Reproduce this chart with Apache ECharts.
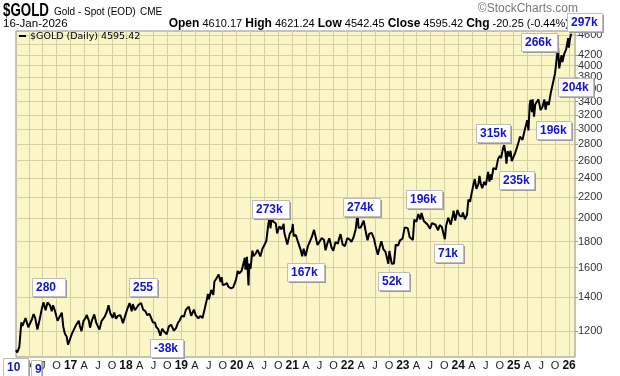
<!DOCTYPE html>
<html>
<head>
<meta charset="utf-8">
<script src="https://cdn.jsdelivr.net/npm/echarts@6/dist/echarts.min.js"></script>
<style>
html, body { margin: 0; padding: 0; background: #fff; }
#chart { width: 620px; height: 376px; }
</style>
</head>
<body>
<div id="chart"></div>
<script>
// daily close of $GOLD (a few points per month)
const dates = [
  '2016-01-07','2016-01-15','2016-01-29','2016-02-11','2016-02-19','2016-03-01','2016-03-10','2016-03-17','2016-03-28','2016-04-08','2016-04-21',
  '2016-05-02','2016-05-13','2016-05-27','2016-06-06','2016-06-16','2016-06-24','2016-07-06','2016-07-20','2016-08-02','2016-08-17','2016-08-30',
  '2016-09-07','2016-09-20','2016-09-29','2016-10-07','2016-10-20','2016-11-04','2016-11-14','2016-11-25','2016-12-06','2016-12-15','2016-12-29',
  '2017-01-10','2017-01-24','2017-02-07','2017-02-24','2017-03-03','2017-03-14','2017-03-27','2017-04-11','2017-04-17','2017-05-02','2017-05-09',
  '2017-05-23','2017-06-06','2017-06-20','2017-06-30','2017-07-10','2017-07-24','2017-08-04','2017-08-14','2017-08-29','2017-09-08','2017-09-20',
  '2017-10-05','2017-10-16','2017-10-27','2017-11-09','2017-11-24','2017-12-05','2017-12-12','2017-12-27',
  '2018-01-08','2018-01-25','2018-02-08','2018-02-15','2018-03-01','2018-03-14','2018-03-27','2018-04-11','2018-04-24','2018-05-09','2018-05-21',
  '2018-06-05','2018-06-14','2018-06-28','2018-07-12','2018-07-19','2018-08-02','2018-08-16','2018-08-28','2018-09-11','2018-09-27','2018-10-11',
  '2018-10-26','2018-11-13','2018-11-27','2018-12-10','2018-12-21',
  '2019-01-04','2019-01-18','2019-01-31','2019-02-19','2019-03-07','2019-03-25','2019-04-05','2019-04-23','2019-05-07','2019-05-21','2019-06-04',
  '2019-06-20','2019-06-25','2019-07-02','2019-07-18','2019-07-31','2019-08-07','2019-08-23','2019-09-04','2019-09-17','2019-09-24','2019-10-01',
  '2019-10-15','2019-10-29','2019-11-07','2019-11-25','2019-12-09','2019-12-27',
  '2020-01-08','2020-01-17','2020-02-03','2020-02-14','2020-02-24','2020-02-28','2020-03-09','2020-03-19','2020-03-24','2020-04-01','2020-04-14',
  '2020-04-21','2020-05-05','2020-05-18','2020-05-29','2020-06-05','2020-06-19','2020-07-01','2020-07-15','2020-07-27','2020-08-06','2020-08-11',
  '2020-08-18','2020-08-31','2020-09-15','2020-09-24','2020-10-09','2020-10-23','2020-11-06','2020-11-10','2020-11-30','2020-12-16','2020-12-31',
  '2021-01-05','2021-01-11','2021-01-25','2021-02-05','2021-02-16','2021-02-26','2021-03-08','2021-03-18','2021-03-30','2021-04-15','2021-04-28',
  '2021-05-10','2021-05-25','2021-06-01','2021-06-17','2021-06-29','2021-07-15','2021-07-30','2021-08-09','2021-08-20','2021-09-03','2021-09-17',
  '2021-09-29','2021-10-14','2021-10-29','2021-11-05','2021-11-16','2021-11-30','2021-12-15','2021-12-31',
  '2022-01-14','2022-01-27','2022-02-10','2022-02-24','2022-03-08','2022-03-15','2022-03-29','2022-04-18','2022-04-29','2022-05-13','2022-05-24',
  '2022-06-10','2022-06-24','2022-07-05','2022-07-20','2022-08-02','2022-08-12','2022-08-26','2022-09-08','2022-09-27','2022-10-04','2022-10-20',
  '2022-11-03','2022-11-15','2022-11-30','2022-12-13','2022-12-30',
  '2023-01-13','2023-01-26','2023-02-02','2023-02-15','2023-02-28','2023-03-08','2023-03-17','2023-03-31','2023-04-13','2023-04-26','2023-05-04',
  '2023-05-19','2023-05-31','2023-06-14','2023-06-29','2023-07-12','2023-07-20','2023-08-04','2023-08-21','2023-09-01','2023-09-15','2023-09-29',
  '2023-10-05','2023-10-13','2023-10-27','2023-11-13','2023-11-28','2023-12-01','2023-12-12','2023-12-27',
  '2024-01-10','2024-01-24','2024-02-01','2024-02-14','2024-02-28','2024-03-08','2024-03-19','2024-03-28','2024-04-12','2024-04-19','2024-04-30',
  '2024-05-13','2024-05-20','2024-05-29','2024-06-07','2024-06-20','2024-07-01','2024-07-16','2024-07-25','2024-08-02','2024-08-07','2024-08-20',
  '2024-09-06','2024-09-20','2024-10-03','2024-10-10','2024-10-22','2024-10-30','2024-11-08','2024-11-14','2024-11-22','2024-12-04','2024-12-11',
  '2024-12-19','2024-12-30',
  '2025-01-10','2025-01-24','2025-02-04','2025-02-11','2025-02-28','2025-03-14','2025-03-31','2025-04-08','2025-04-16','2025-04-22','2025-05-01',
  '2025-05-06','2025-05-15','2025-05-23','2025-06-05','2025-06-13','2025-06-27','2025-07-09','2025-07-22','2025-07-30','2025-08-08','2025-08-20',
  '2025-09-02','2025-09-16','2025-09-30','2025-10-08','2025-10-20','2025-10-28','2025-11-04','2025-11-12','2025-11-18','2025-12-01','2025-12-12',
  '2025-12-26','2025-12-30','2026-01-06','2026-01-14','2026-01-16'
];
const prices = [
  1100,1088,1116,1247,1228,1232,1272,1265,1220,1241,1265,
  1295,1272,1208,1245,1285,1322,1366,1318,1366,1350,1312,
  1348,1314,1322,1257,1268,1304,1222,1183,1170,1128,1158,
  1185,1210,1234,1257,1227,1199,1256,1275,1290,1256,1218,
  1262,1293,1243,1242,1207,1255,1258,1280,1312,1349,1300,
  1273,1304,1268,1285,1289,1264,1243,1285,
  1320,1362,1312,1355,1318,1325,1353,1362,1322,1313,1290,
  1296,1305,1248,1245,1223,1210,1174,1212,1195,1182,1225,
  1234,1201,1215,1245,1258,
  1285,1280,1320,1340,1285,1322,1291,1270,1285,1272,1325,
  1390,1420,1385,1445,1413,1500,1527,1550,1498,1532,1478,
  1482,1490,1467,1456,1462,1511,
  1575,1557,1577,1584,1672,1585,1680,1475,1630,1590,1727,
  1686,1705,1733,1730,1683,1743,1770,1808,1940,2030,1912,
  2000,1968,1955,1868,1930,1902,1951,1876,1776,1864,1895,
  1950,1845,1855,1810,1795,1734,1683,1742,1685,1764,1773,
  1836,1898,1904,1773,1761,1829,1814,1730,1781,1827,1754,
  1726,1797,1783,1818,1862,1775,1764,1829,
  1818,1797,1836,1904,2043,1917,1919,1979,1897,1811,1866,
  1871,1827,1764,1696,1761,1802,1737,1720,1628,1725,1627,
  1629,1776,1768,1810,1824,
  1920,1930,1912,1836,1827,1814,1989,1969,2040,1990,2050,
  1977,1962,1943,1908,1957,1970,1943,1895,1940,1924,1848,
  1820,1932,2006,1945,2041,2072,1980,2077,
  2025,2015,2055,1992,2034,2179,2157,2230,2344,2391,2286,
  2336,2425,2338,2293,2360,2326,2469,2364,2443,2382,2514,
  2497,2621,2657,2630,2748,2788,2685,2565,2715,2650,2718,
  2593,2607,
  2690,2770,2842,2898,2858,2984,3123,2982,3343,3425,3238,
  3432,3173,3357,3373,3432,3272,3313,3432,3275,3398,3347,
  3533,3689,3858,4040,4356,3952,3932,4195,4066,4231,4300,
  4532,4340,4495,4621,4595.42
];

// axis ticks
const priceTicks = [1200,1400,1600,1800,2000,2200,2400,2600,2800,3000,3200,3400,3600,3800,4000,4200,4400,4600];
const quarterTicks = [
  '2016-04-01','2016-07-01','2016-10-01','2017-01-01','2017-04-01','2017-07-01','2017-10-01',
  '2018-01-01','2018-04-01','2018-07-01','2018-10-01','2019-01-01','2019-04-01','2019-07-01','2019-10-01',
  '2020-01-01','2020-04-01','2020-07-01','2020-10-01','2021-01-01','2021-04-01','2021-07-01','2021-10-01',
  '2022-01-01','2022-04-01','2022-07-01','2022-10-01','2023-01-01','2023-04-01','2023-07-01','2023-10-01',
  '2024-01-01','2024-04-01','2024-07-01','2024-10-01','2025-01-01','2025-04-01','2025-07-01','2025-10-01',
  '2026-01-01'
];
const monthLetters = { 3: 'A', 6: 'J', 9: 'O' };

// volume notes shown in the boxes, and where the boxes sit
const noteText = ['280','255','-38k','273k','167k','274k','52k','196k','71k','315k','235k','196k','266k','204k','297k','10','9'];
const noteBox = [
  [32,278,33],[129,278,28],[150,339,33],[252,200,37],[287,263,37],[343,198,37],[378,272,31],[406,190,36],
  [434,244,29],[476,124,34],[499,171,35],[536,121,35],[521,33,36],[558,78,35],[567,13,35],[3,358,25],[31,360,10]
];

const sans = '"Liberation Sans", Arial, sans-serif';
const gridColor = '#d6d0a0';
const ts = s => Date.parse(s + 'T00:00:00Z');

const notes = noteText.map((t, i) => {
  const b = noteBox[i];
  return {
    type: 'group', z: 20,
    children: [
      { type: 'rect', z: 20, shape: { x: b[0] + 2, y: b[1] + 2, width: b[2], height: 18 }, style: { fill: '#9c9c9c' } },
      { type: 'rect', z: 21, shape: { x: b[0] + 0.5, y: b[1] + 0.5, width: b[2], height: 18 }, style: { fill: '#fff', stroke: '#bdbdbd', lineWidth: 1 } },
      { type: 'text', z: 22, x: b[0] + 4, y: b[1] + 10,
        style: { text: t, fill: '#1414c8', font: 'bold 12px ' + sans, verticalAlign: 'middle' } }
    ]
  };
});

const chart = echarts.init(document.getElementById('chart'), null, { renderer: 'canvas' });

const option = {
  animation: false,
  backgroundColor: '#fff',
  grid: {
    left: 16, right: 45, top: 31, bottom: 19,
    show: true, backgroundColor: '#faf6c8', borderColor: '#8c8c8c', borderWidth: 1,
    outerBoundsMode: 'none'
  },
  xAxis: {
    type: 'value',
    min: ts('2016-01-07'),
    max: ts('2026-02-09'),
    axisLine: { show: false },
    axisTick: { show: false, customValues: quarterTicks.map(ts) },
    splitLine: { show: true, lineStyle: { color: gridColor, width: 1 } },
    axisLabel: {
      customValues: quarterTicks.map(ts),
      margin: 3,
      color: '#222',
      fontSize: 11,
      fontFamily: sans,
      formatter: function (v) {
        const d = new Date(v);
        const m = d.getUTCMonth();
        if (m === 0) return '{y|' + String(d.getUTCFullYear()).slice(2) + '}';
        return monthLetters[m] || '';
      },
      rich: { y: { fontWeight: 'bold', fontSize: 12, color: '#111', fontFamily: sans } }
    }
  },
  yAxis: {
    type: 'log',
    position: 'right',
    min: 1066,
    max: 4682,
    axisLine: { show: false },
    axisTick: { show: true, length: 3, lineStyle: { color: '#999' }, customValues: priceTicks },
    splitLine: { show: true, lineStyle: { color: gridColor, width: 1 } },
    axisLabel: {
      customValues: priceTicks,
      showMinLabel: true,
      showMaxLabel: true,
      hideOverlap: false,
      margin: 3,
      color: '#333',
      fontSize: 11,
      fontFamily: sans,
      formatter: function (v) { return String(Math.round(v)); }
    }
  },
  series: [{
    type: 'line',
    data: dates.map((d, i) => [ts(d), prices[i]]),
    showSymbol: false,
    symbol: 'none',
    silent: true,
    lineStyle: { color: '#000', width: 2 }
  }],
  graphic: [
    { type: 'text', x: 3, y: 11, scaleX: 0.74, style: { text: '$GOLD', fill: '#000', font: 'bold 18px ' + sans, verticalAlign: 'middle' } },
    { type: 'text', x: 54, y: 12, style: { text: 'Gold - Spot (EOD)', fill: '#000', font: '10px ' + sans, verticalAlign: 'middle' } },
    { type: 'text', x: 140, y: 12, style: { text: 'CME', fill: '#000', font: '10px ' + sans, verticalAlign: 'middle' } },
    { type: 'text', x: 578, y: 9, style: { text: '\u00a9StockCharts.com', fill: '#777', font: '12px ' + sans, align: 'right', verticalAlign: 'middle' } },
    { type: 'text', x: 3, y: 24, style: { text: '16-Jan-2026', fill: '#000', font: '11.5px ' + sans, verticalAlign: 'middle' } },
    { type: 'text', x: 569, y: 24, style: {
        text: '{b|Open} 4610.17 {b|High} 4621.24 {b|Low} 4542.45 {b|Close} 4595.42 {b|Chg} -20.25 (-0.44%)',
        fill: '#000', font: '11px ' + sans, align: 'right', verticalAlign: 'middle',
        rich: { b: { fontWeight: 'bold', fontSize: 12, fontFamily: sans, fill: '#000' } }
    } },
    { type: 'rect', z: 10, shape: { x: 19, y: 35, width: 7, height: 2 }, style: { fill: '#000' } },
    { type: 'text', z: 10, x: 30, y: 36.5, style: { text: '$GOLD (Daily) 4595.42', fill: '#000', font: '9.5px "DejaVu Sans", Verdana, sans-serif', verticalAlign: 'middle' } }
  ].concat(notes)
};

chart.setOption(option);
</script>
</body>
</html>
